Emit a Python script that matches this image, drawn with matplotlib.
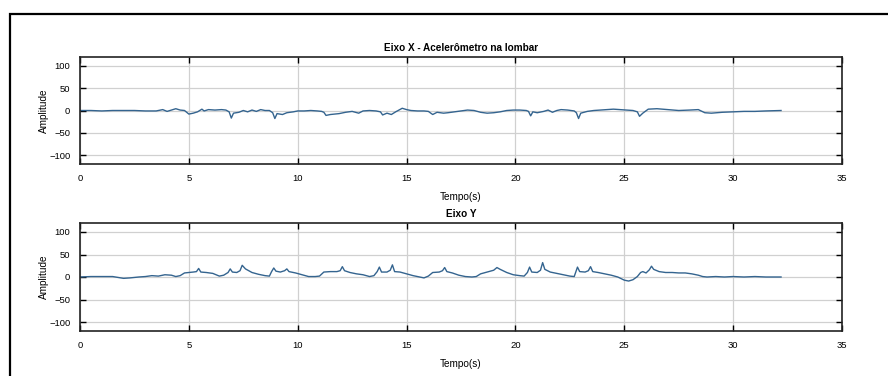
import matplotlib
matplotlib.use("Agg")
import matplotlib.pyplot as plt
from matplotlib.patches import Rectangle

# ---- data ----
tx = [0, 0.5, 1.0, 1.5, 2.0, 2.5, 3.0, 3.5, 3.8, 4.0, 4.2, 4.4, 4.6, 4.8, 5.0, 5.2, 5.4, 5.6, 5.7,
      5.9, 6.2, 6.5, 6.7, 6.85, 6.95, 7.05, 7.3, 7.5, 7.7, 7.9, 8.1, 8.3, 8.5, 8.7, 8.85, 8.95,
      9.05, 9.3, 9.5, 9.8, 10.0, 10.3, 10.6, 10.9, 11.1, 11.2, 11.3, 11.5, 11.9, 12.2, 12.5, 12.8,
      13.0, 13.3, 13.6, 13.8, 13.9, 14.1, 14.3, 14.5, 14.8, 15.0, 15.2, 15.5, 15.8, 16.0, 16.2,
      16.4, 16.7, 16.9, 17.2, 17.5, 17.8, 18.1, 18.4, 18.7, 19.0, 19.3, 19.6, 19.9, 20.2, 20.5,
      20.6, 20.7, 20.8, 21.0, 21.3, 21.5, 21.7, 21.9, 22.1, 22.4, 22.7, 22.8, 22.9, 23.0, 23.3,
      23.6, 23.9, 24.2, 24.5, 24.8, 25.1, 25.4, 25.6, 25.7, 25.85, 26.1, 26.5, 27.0, 27.5, 28.0,
      28.4, 28.7, 29.0, 29.5, 30.0, 30.5, 31.0, 31.5, 32.2]
vx = [0, 0, -1, 0, 0, 0, -1, -1, 2, -2, 1, 4, 1, 0, -8, -6, -3, 3, -1,
      2, 1, 2, 1, -3, -17, -6, -4, 0, -3, 1, -2, 2, 0, 0, -5, -18,
      -7, -9, -5, -3, -1, -1, 0, -1, -2, -4, -11, -9, -7, -4, -2, -6,
      -1, 0, -1, -3, -10, -6, -9, -3, 5, 2, 0, -1, -1, -2, -9,
      -4, -6, -5, -3, -1, 1, 0, -4, -6, -5, -3, 0, 1, 1, 0,
      -2, -12, -3, -5, -2, 1, -4, 0, 2, 1, -1, -5, -18, -6, -2,
      0, 1, 2, 3, 2, 1, 0, -3, -13, -6, 3, 4, 2, 0, 1,
      2, -5, -6, -4, -3, -2, -2, -1, 0]

ty = [0, 0.5, 1.0, 1.5, 2.0, 2.3, 2.7, 3.0, 3.3, 3.6, 3.9, 4.2, 4.4, 4.6, 4.8, 5.0, 5.2, 5.35,
      5.45, 5.55, 5.8, 6.1, 6.4, 6.6, 6.8, 6.9, 7.0, 7.2, 7.35, 7.45, 7.6, 7.9, 8.2, 8.5, 8.7,
      8.8, 8.9, 9.0, 9.2, 9.4, 9.5, 9.6, 9.9, 10.2, 10.5, 10.8, 11.0, 11.2, 11.5, 11.8, 11.95,
      12.05, 12.15, 12.4, 12.7, 13.0, 13.3, 13.5, 13.65, 13.75, 13.85, 14.1, 14.25, 14.35, 14.45,
      14.7, 15.0, 15.3, 15.6, 15.8, 16.0, 16.2, 16.5, 16.65, 16.75, 16.85, 17.1, 17.4, 17.7,
      18.0, 18.2, 18.4, 18.7, 19.0, 19.15, 19.3, 19.6, 19.9, 20.2, 20.4, 20.55, 20.65, 20.75,
      21.0, 21.15, 21.25, 21.35, 21.6, 21.9, 22.2, 22.5, 22.7, 22.85, 22.95, 23.2, 23.35, 23.45,
      23.55, 23.8, 24.1, 24.4, 24.7, 25.0, 25.2, 25.4, 25.6, 25.75, 25.85, 26.0, 26.15, 26.25,
      26.35, 26.6, 26.9, 27.2, 27.5, 27.8, 28.1, 28.4, 28.6, 28.8, 29.2, 29.6, 30.0, 30.5, 31.0,
      31.5, 32.2]
vy = [0, 1, 1, 1, -3, -2, 0, 1, 3, 2, 5, 4, 1, 3, 9, 10, 11, 12,
      19, 11, 10, 8, 2, 4, 10, 18, 11, 10, 14, 26, 18, 10, 6, 3, 2,
      12, 20, 13, 11, 14, 18, 12, 9, 5, 1, 1, 2, 11, 12, 12, 14,
      23, 14, 10, 7, 5, 1, 3, 12, 22, 11, 11, 15, 27, 12,
      11, 7, 3, 0, -2, 2, 10, 11, 14, 21, 12, 9, 4, 1,
      0, 1, 7, 11, 15, 21, 17, 10, 5, 3, 2, 10, 22, 11,
      10, 15, 32, 17, 11, 8, 5, 2, 1, 22, 12, 11, 14, 23,
      12, 10, 7, 4, 0, -7, -9, -6, 1, 10, 12, 9, 16, 24,
      17, 12, 10, 10, 9, 9, 7, 4, 1, 0, 1, 0, 1, 0, 1,
      0, 0]

titles = ["Eixo X - Acelerômetro na lombar", "Eixo Y"]
xticks = [0, 5, 10, 15, 20, 25, 30, 35]
yticks = [-100, -50, 0, 50, 100]

plt.rcParams['font.family'] = ['Liberation Sans', 'DejaVu Sans']

fig = plt.figure(figsize=(8.88, 3.76), dpi=100)
fig.patch.set_facecolor('white')

W, H = 888, 376
boxes = [(80, 57, 842, 164), (80, 223, 842, 331)]
series = [(tx, vx), (ty, vy)]
for (l, t, r, b), (xs, ys), ttl in zip(boxes, series, titles):
    ax = fig.add_axes([l / W, (H - b) / H, (r - l) / W, (b - t) / H])
    ax.plot(xs, ys, color='#34648f', lw=1.0)
    ax.set_xlim(0, 35)
    ax.set_ylim(-120, 120)
    ax.set_xticks(xticks)
    ax.set_yticks(yticks)
    ax.grid(True, color='#d0d0d0', lw=0.9)
    ax.tick_params(direction='in', length=4, width=1, labelsize=6.8, top=True, right=True,
                   pad=7)
    for s in ax.spines.values():
        s.set_linewidth(1.2)
        s.set_color('#222222')
    ax.set_xlabel("Tempo(s)", fontsize=7.2, labelpad=7)
    ax.set_ylabel("Amplitude", fontsize=7.2, labelpad=0)
    ax.set_title(ttl, fontsize=7.2, fontweight='bold', pad=4)

fig.patches.append(Rectangle((10 / W, -0.1), 1.2, (H - 14) / H + 0.1, transform=fig.transFigure,
                             fill=False, edgecolor='black', lw=1.6))

fig.savefig("out.png", dpi=100)
